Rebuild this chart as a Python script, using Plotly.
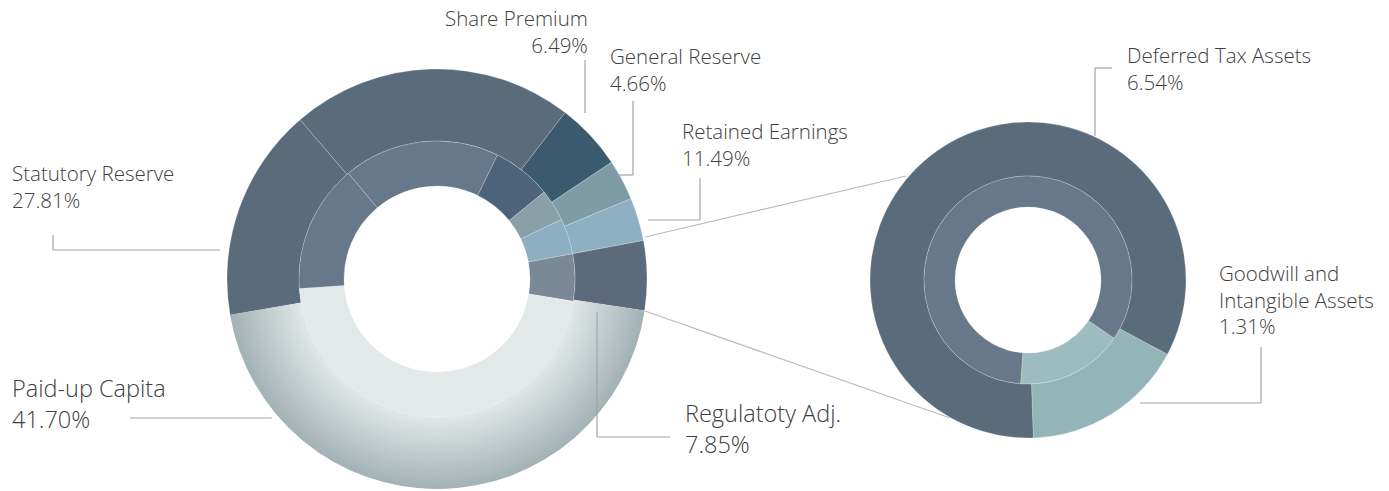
import plotly.graph_objects as go

W, H = 1389, 491

# ---------------- data ----------------
# Left donut (capital composition). Slices ordered clockwise from the upper statutory segment.
left_categories = ["Statutory Reserve (upper)", "Share Premium", "General Reserve",
                   "Retained Earnings", "Regulatoty Adj.", "Paid-up Capita", "Statutory Reserve"]
# shares of the circle as drawn in the picture (outer ring / inner ring)
left_outer_share = [21.75, 5.17, 3.14, 3.31, 5.36, 44.83, 16.44]
left_inner_share = [18.33, 6.94, 3.75, 4.17, 5.50, 46.33, 15.00]
# percentages printed on the chart
left_label_lines = {
    "Share Premium": ["Share Premium", "6.49%"],
    "General Reserve": ["General Reserve", "4.66%"],
    "Retained Earnings": ["Retained Earnings", "11.49%"],
    "Statutory Reserve": ["Statutory Reserve", "27.81%"],
    "Paid-up Capita": ["Paid-up Capita", "41.70%"],
    "Regulatoty Adj.": ["Regulatoty Adj.", "7.85%"],
}

# Right donut (breakdown of the regulatory adjustment)
right_categories = ["Goodwill and Intangible Assets", "Deferred Tax Assets"]
right_values = [1.31, 6.54]
right_label_lines = {
    "Deferred Tax Assets": ["Deferred Tax Assets", "6.54%"],
    "Goodwill and Intangible Assets": ["Goodwill and", "Intangible Assets", "1.31%"],
}

# ---------------- styles ----------------
SLATE_O, SLATE_I = "#5a6b7c", "#667889"
left_outer_colors = [SLATE_O, "#3b5a6e", "#7f9ba6", "#8fb0c2", "#5b6b7c", "#c6cfd1", SLATE_O]
left_inner_colors = [SLATE_I, "#4d637a", "#8aa0a9", "#8eafc1", "#7a8997", "#e3e8e9", SLATE_I]
right_outer_colors = ["#93b5b7", SLATE_O]
right_inner_colors = ["#9dbcbe", SLATE_I]
TEXT = "#404040"
LEAD = "#a3a3a3"
SEAM = "rgba(255,255,255,0.35)"


def dom(cx, cy, r):
    return dict(x=[(cx - r) / W, (cx + r) / W], y=[1 - (cy + r) / H, 1 - (cy - r) / H])


def pie(labels, values, colors, cx, cy, r_out, r_in, rot, line=0.6, lcolor=SEAM):
    return go.Pie(labels=labels, values=values, sort=False, direction="clockwise",
                  rotation=rot, hole=r_in / r_out, domain=dom(cx, cy, r_out),
                  marker=dict(colors=colors, line=dict(color=lcolor, width=line)),
                  textinfo="none", hoverinfo="label", showlegend=False)


fig = go.Figure()

# left donut geometry
LCX, LCY = 437, 279
L_R_OUT, L_R_MID, L_R_IN = 210, 138, 93
L_ROT_OUT, L_ROT_IN = -40.7, -40.0

fig.add_trace(pie(left_categories, left_outer_share, left_outer_colors,
                  LCX, LCY, L_R_OUT, L_R_MID, L_ROT_OUT))

# radial shading of the paid-up band (light at the inner edge, darker outside)
n_bands = 36
c0 = (0xe2, 0xe7, 0xe8)
c1 = (0xa2, 0xb2, 0xb5)
paid_idx = left_categories.index("Paid-up Capita")
for k in range(n_bands):
    r_a = L_R_MID + (L_R_OUT - L_R_MID) * k / n_bands
    r_b = L_R_MID + (L_R_OUT - L_R_MID) * (k + 1) / n_bands + 1.0
    t = (k + 0.5) / n_bands
    col = "rgb(%d,%d,%d)" % tuple(round(c0[j] + (c1[j] - c0[j]) * t) for j in range(3))
    cols = ["rgba(0,0,0,0)"] * len(left_categories)
    cols[paid_idx] = col
    fig.add_trace(pie(left_categories, left_outer_share, cols, LCX, LCY,
                      min(r_b, L_R_OUT), r_a, L_ROT_OUT, line=0, lcolor="rgba(0,0,0,0)"))

fig.add_trace(pie(left_categories, left_inner_share, left_inner_colors,
                  LCX, LCY, L_R_MID, L_R_IN, L_ROT_IN))

# right donut geometry
RCX, RCY = 1028, 280
R_R_OUT, R_R_MID, R_R_IN = 158, 104, 73
fig.add_trace(pie(right_categories, right_values, right_outer_colors,
                  RCX, RCY, R_R_OUT, R_R_MID, 118))
fig.add_trace(pie(right_categories, right_values, right_inner_colors,
                  RCX, RCY, R_R_MID, R_R_IN, 124))

# ---------------- labels ----------------
FONT = "Open Sans, Noto Sans, sans-serif"
label_pos = {
    # name: (x, first line centre y, anchor, font size)
    "Share Premium": (590, 18, "right", 20.5),
    "General Reserve": (608, 56, "left", 20.5),
    "Retained Earnings": (680, 131, "left", 20.5),
    "Statutory Reserve": (10, 173, "left", 20.5),
    "Paid-up Capita": (10, 388, "left", 23.5),
    "Regulatoty Adj.": (683, 413, "left", 23.5),
    "Deferred Tax Assets": (1125, 55, "left", 20.5),
    "Goodwill and Intangible Assets": (1217, 273, "left", 20.5),
}
annotations = []
all_lines = {**left_label_lines, **right_label_lines}
for name, lines in all_lines.items():
    x, y0, anc, fs = label_pos[name]
    yc = y0 + (len(lines) - 1) * 1.3 * fs / 2
    annotations.append(dict(
        text="<br>".join(lines), xref="paper", yref="paper", x=x / W, y=1 - yc / H,
        xanchor=anc, yanchor="middle", align=anc, showarrow=False,
        font=dict(family=FONT, size=fs, color=TEXT, weight=300)))

# leader lines (pixel polylines)
leaders = [
    [(585, 60), (585, 113)],
    [(633, 101), (633, 175), (617, 175)],
    [(700, 178), (700, 220), (648, 220)],
    [(53, 235), (53, 250), (220, 250)],
    [(130, 418), (272, 418)],
    [(597, 312), (597, 437), (670, 437)],
    [(1112, 68), (1095, 68), (1095, 136)],
    [(1261, 347), (1261, 403), (1140, 403)],
]
connectors = [
    [(645, 237), (906, 176)],
    [(645, 311), (950, 418)],
]
shapes = []
for pts, col in [(p, LEAD) for p in leaders] + [(p, "#bcbcbc") for p in connectors]:
    for (xa, ya), (xb, yb) in zip(pts[:-1], pts[1:]):
        shapes.append(dict(type="line", xref="paper", yref="paper",
                           x0=xa / W, y0=1 - ya / H, x1=xb / W, y1=1 - yb / H,
                           line=dict(color=col, width=1.2)))

fig.update_layout(
    width=W, height=H, margin=dict(l=0, r=0, t=0, b=0),
    paper_bgcolor="white", plot_bgcolor="white",
    annotations=annotations, shapes=shapes, showlegend=False,
)

fig.write_html("out.html", config={"displayModeBar": False},
               post_script="document.body.style.margin='0';document.body.style.overflow='hidden';")
